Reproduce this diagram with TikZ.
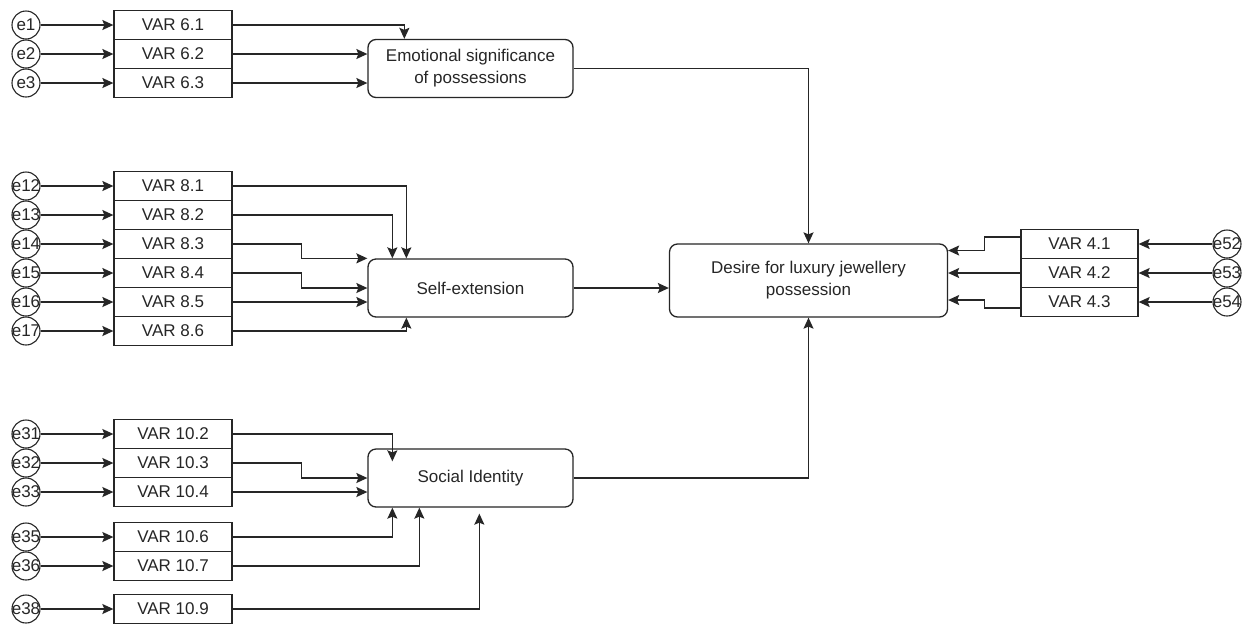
\documentclass[tikz,border=0pt]{standalone}
\usepackage{fontspec}
\setmainfont{Liberation Sans}
\usetikzlibrary{arrows.meta,calc}
\definecolor{ink}{HTML}{262626}
\begin{document}
\begin{tikzpicture}[x=1pt,y=-1pt,
  font=\fontsize{17}{22}\selectfont, text=ink,
  var/.style={draw=ink, line width=1.3pt, minimum width=118pt, minimum height=29pt, inner sep=0pt},
  lat/.style={draw=ink, line width=1.3pt, rounded corners=8pt, minimum width=205pt, minimum height=58pt, align=center, inner sep=0pt},
  err/.style={draw=ink, circle, line width=1.1pt, minimum size=28pt, inner sep=0pt},
  arr/.style={draw=ink, line width=1.3pt, -{Stealth[length=11pt,width=10pt,inset=2pt]}}
]
\fill[white] (0,0) rectangle (1252,625);
\useasboundingbox (0,0) rectangle (1252,625);

% latent constructs
\node[lat] (emo)  at (470.5,68.5) {Emotional significance\\of possessions};
\node[lat] (self) at (470.5,288)  {Self-extension};
\node[lat] (soc)  at (470.5,478)  {Social Identity};
\node[lat, minimum width=278pt, minimum height=73pt] (des) at (808.5,280.5) {Desire for luxury jewellery\\possession};

% indicators with their error terms (left side)
\foreach \n/\e/\y in {61/1/25, 62/2/54, 63/3/83,
                      81/12/186, 82/13/215, 83/14/244, 84/15/273, 85/16/302, 86/17/331,
                      102/31/434, 103/32/463, 104/33/492, 106/35/537, 107/36/566, 109/38/609}{
  \pgfmathtruncatemacro{\maj}{floor(\n/10)}
  \pgfmathtruncatemacro{\mnr}{\n-10*\maj}
  \node[var] (v\n) at (173,\y) {VAR \maj.\mnr};
  \node[err, label={[inner sep=0pt]center:e\e}] (e\e) at (26,\y) {};
  \draw[arr] (e\e.east) -- (v\n.west);
}

% indicators with their error terms (right side)
\foreach \n/\e/\y in {41/52/244, 42/53/273, 43/54/302}{
  \node[var, minimum width=117pt] (v\n) at (1079.5,\y) {VAR 4.\the\numexpr\n-40\relax};
  \node[err, label={[inner sep=0pt]center:e\e}] (e\e) at (1227,\y) {};
  \draw[arr] (e\e.west) -- (v\n.east);
}

% emotional significance
\draw[arr] (v61.east) -| ([xshift=37pt]emo.north west);
\draw[arr] (v62.east) -- (v62.east -| emo.west);
\draw[arr] (v63.east) -- (v63.east -| emo.west);

% self-extension
\draw[arr] (v81.east) -| ([xshift=39pt]self.north west);
\draw[arr] (v82.east) -| ([xshift=25pt]self.north west);
\draw[arr] (v83.east) -- ++(69,0) |- (self.north west);
\draw[arr] (v84.east) -- ++(69,0) |- (self.west);
\draw[arr] (v85.east) -- (v85.east -| self.west);
\draw[arr] (v86.east) -| ([xshift=39pt]self.south west);

% social identity
\draw[arr] (v102.east) -| ([xshift=25pt,yshift=-13pt]soc.north west);
\draw[arr] (v103.east) -- ++(69,0) |- (soc.west);
\draw[arr] (v104.east) -- (v104.east -| soc.west);
\draw[arr] (v106.east) -| ([xshift=25pt]soc.south west);
\draw[arr] (v107.east) -| ([xshift=52pt]soc.south west);
\draw[arr] (v109.east) -| ([xshift=112pt,yshift=-6pt]soc.south west);

% desire for possession
\draw[arr] (emo.east) -| (des.north);
\draw[arr] (self.east) -- (self.east -| des.west);
\draw[arr] (soc.east) -| (des.south);
\draw[arr] ([yshift=7pt]v41.west) -- ++(-36,0) |- ([yshift=30pt]des.east);
\draw[arr] (v42.west) -- (v42.west -| des.east);
\draw[arr] ([yshift=-6pt]v43.west) -- ++(-36,0) |- ([yshift=-19.5pt]des.east);
\end{tikzpicture}
\end{document}
